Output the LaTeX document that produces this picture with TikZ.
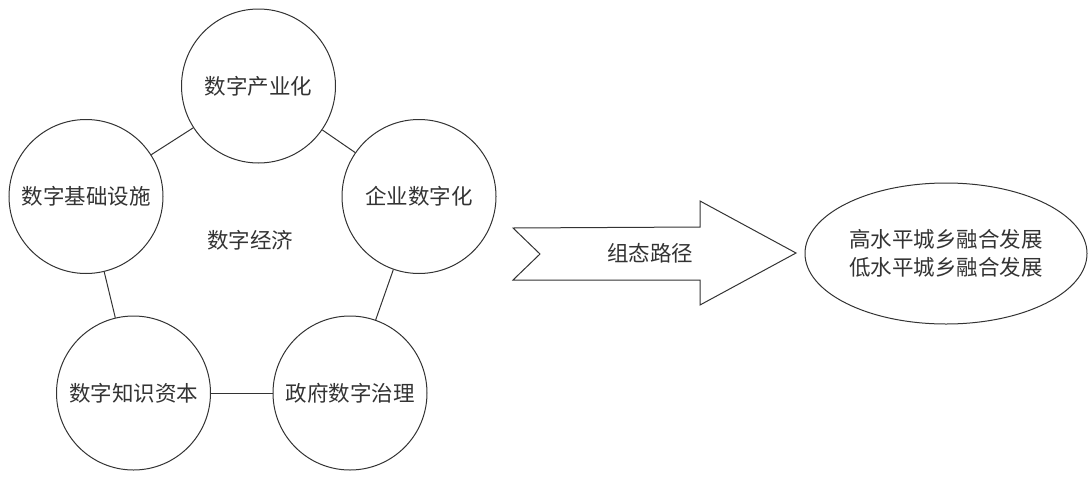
\documentclass[tikz,border=0pt]{standalone}
\usepackage{fontspec}
\setmainfont{Noto Sans CJK SC}
\usetikzlibrary{shapes.geometric}
\definecolor{ink}{HTML}{333333}
\begin{document}
\begin{tikzpicture}[x=1pt,y=-1pt,
  every node/.style={text=ink,font=\fontsize{21.5}{28}\selectfont},
  bubble/.style={circle,draw=ink,line width=1pt,minimum size=154pt,inner sep=0pt},
  link/.style={draw=ink,line width=1pt},
  oval/.style={ellipse,draw=ink,line width=1pt,minimum width=282pt,minimum height=141pt,inner sep=0pt,align=center}]
\useasboundingbox (0,0) rectangle (1092,477);
\node[bubble] (c1) at (258.5,86) {数字产业化};
\node[bubble] (c2) at (86,196.5) {数字基础设施};
\node[bubble] (c3) at (419,196.5) {企业数字化};
\node[bubble] (c4) at (133.5,393) {数字知识资本};
\node[bubble] (c5) at (350,393) {政府数字治理};
\node (eco) at (250,240) {数字经济};
\draw[link] (c1) -- (c2);
\draw[link] (c1) -- (c3);
\draw[link] (c2) -- (c4);
\draw[link] (c3) -- (c5);
\draw[link] (c4) -- (c5);
\draw[draw=ink,line width=1pt,line join=miter]
  (513,228) -- (700,227) -- (700,201) -- (796,253) -- (700,305) -- (700,280) -- (513,280) -- (540,254) -- cycle;
\node (path) at (650,253) {组态路径};
\node[oval] (res) at (946,253.5) {高水平城乡融合发展\\低水平城乡融合发展};
\end{tikzpicture}
\end{document}
